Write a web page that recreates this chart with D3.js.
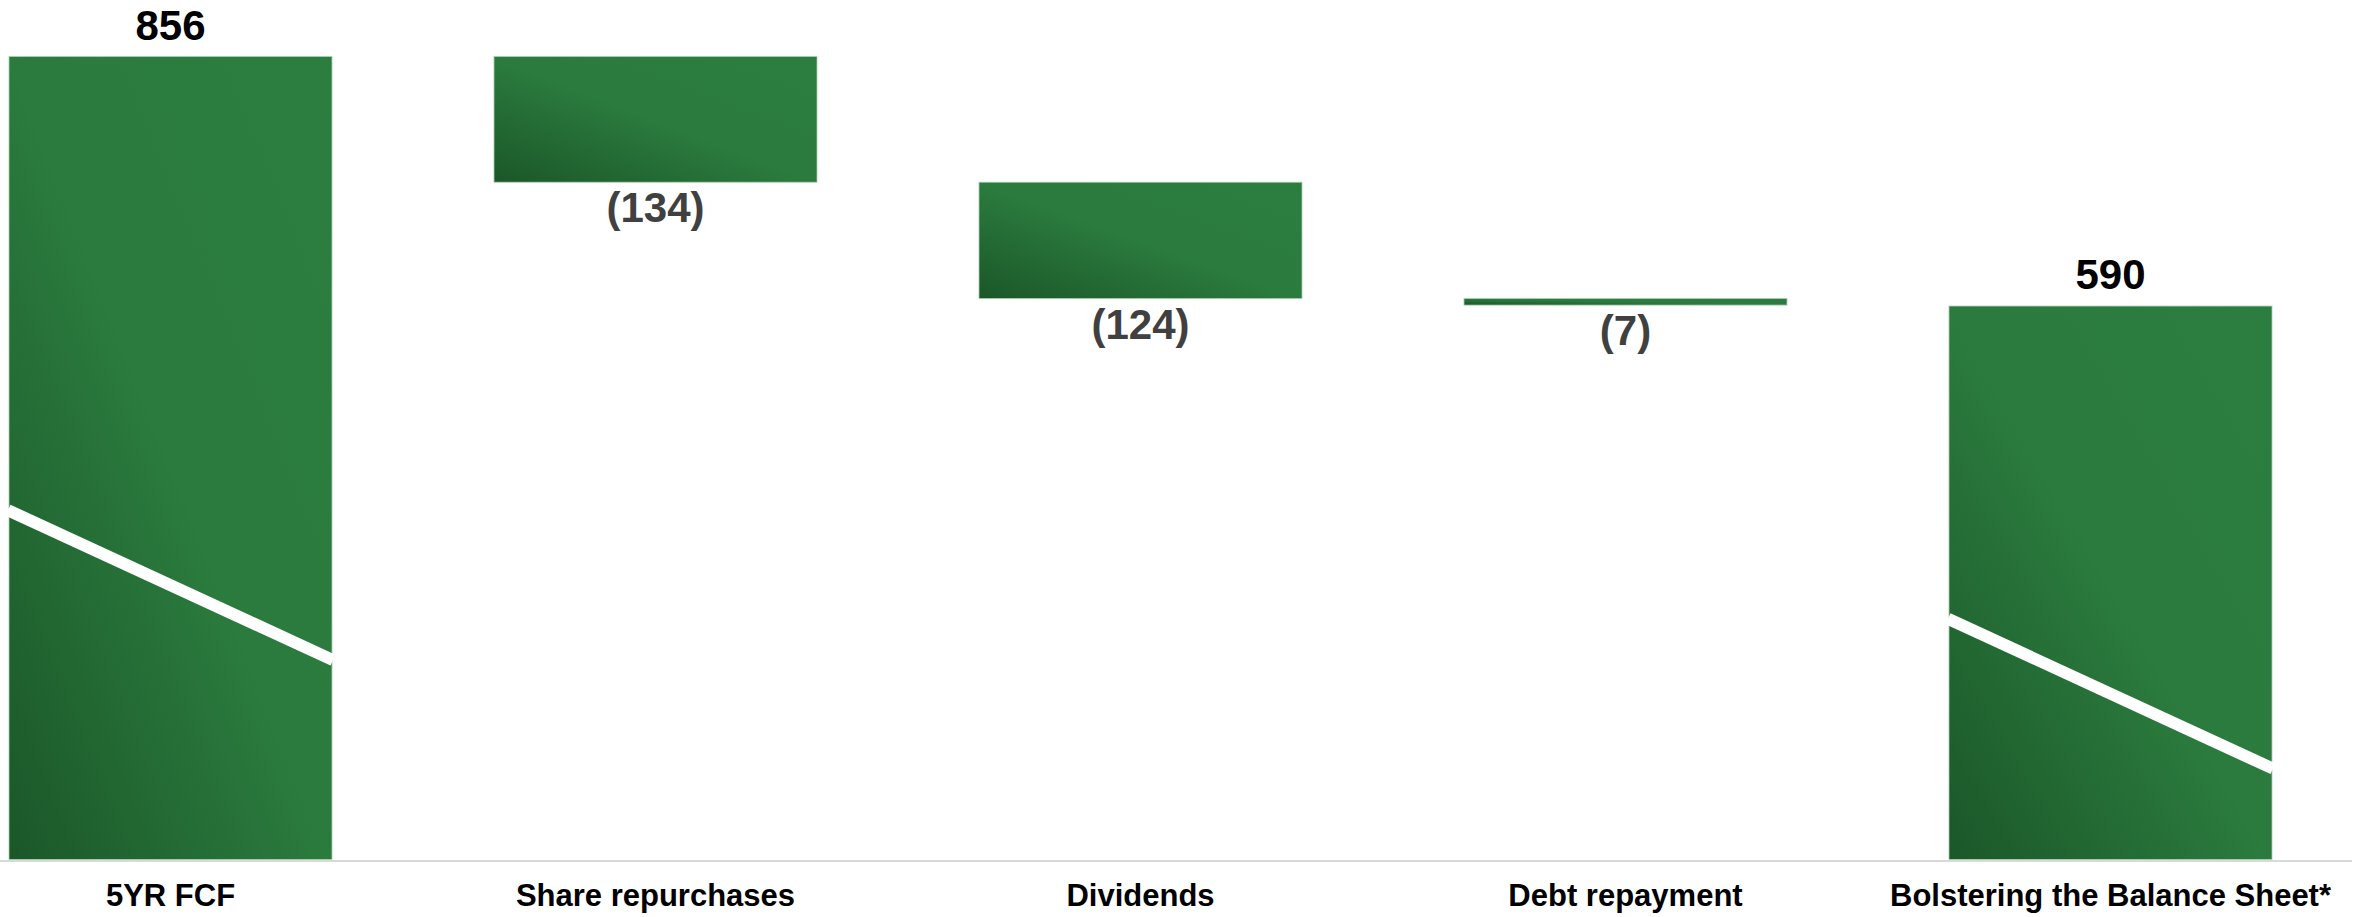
<!DOCTYPE html>
<html>
<head>
<meta charset="utf-8">
<script src="https://cdn.jsdelivr.net/npm/d3@7"></script>
<style>
  html, body { margin: 0; padding: 0; background: #fff; }
  svg text { font-family: "Liberation Sans", Arial, sans-serif; font-weight: bold; }
</style>
</head>
<body>
<div class="waterfall-container"></div>
<script>
// chart data
const categories = ["5YR FCF", "Share repurchases", "Dividends", "Debt repayment", "Bolstering the Balance Sheet*"];
const values = [856, -134, -124, -7, 590];
const valueLabels = ["856", "(134)", "(124)", "(7)", "590"];
const isTotal = [true, false, false, false, true];
const hasBreak = [true, false, false, false, true];

const width = 2367;
const height = 917;
const baseY = 859.5;

let svg = d3.select(".waterfall-container").append("svg")
    .attr("width", width)
    .attr("height", height);

// gradient used on every bar (dark bottom-left -> green top-right)
let grad = svg.append("defs").append("linearGradient")
    .attr("id", "barGrad")
    .attr("x1", 0).attr("y1", 1)
    .attr("x2", 1).attr("y2", 0);
grad.append("stop").attr("offset", "0%").attr("stop-color", "#1b5729");
grad.append("stop").attr("offset", "50%").attr("stop-color", "#2b7b3e");
grad.append("stop").attr("offset", "100%").attr("stop-color", "#2c7d40");

// running totals for the waterfall
let running = 0;
let steps = categories.map((cat, i) => {
    let start, end;
    if (isTotal[i]) {
        start = 0;
        end = values[i];
        running = values[i];
    } else {
        start = running;
        end = running + values[i];
        running = end;
    }
    return { cat: cat, value: values[i], label: valueLabels[i], start: start, end: end, brk: hasBreak[i] };
});

let xScale = d3.scaleBand()
    .domain(categories)
    .range([9, 2272])
    .paddingInner(0.334)
    .paddingOuter(0);

let yScale = d3.scaleLinear()
    .domain([0, 856])
    .range([baseY, 56.5]);

// baseline
svg.append("line")
    .attr("x1", 0).attr("x2", 2352)
    .attr("y1", baseY + 1.5).attr("y2", baseY + 1.5)
    .attr("stroke", "#d9d9d9")
    .attr("stroke-width", 2);

// bars
svg.selectAll("rect.bar")
    .data(steps)
    .enter()
    .append("rect")
    .attr("class", "bar")
    .attr("x", d => xScale(d.cat))
    .attr("y", d => yScale(Math.max(d.start, d.end)))
    .attr("width", xScale.bandwidth())
    .attr("height", d => Math.abs(yScale(d.start) - yScale(d.end)))
    .attr("fill", "url(#barGrad)")
    .attr("stroke", "#a9d0b1")
    .attr("stroke-width", 0.8);

// white axis-break slashes on the tall total bars
svg.selectAll("line.brk")
    .data(steps.filter(d => d.brk))
    .enter()
    .append("line")
    .attr("class", "brk")
    .attr("x1", d => xScale(d.cat) - 1)
    .attr("x2", d => xScale(d.cat) + xScale.bandwidth() + 1)
    .attr("y1", d => baseY - 0.435 * (baseY - yScale(d.end)))
    .attr("y2", d => baseY - 0.435 * (baseY - yScale(d.end)) + 149 * (xScale.bandwidth() + 2) / 323)
    .attr("stroke", "#ffffff")
    .attr("stroke-width", 12);

// value labels
svg.selectAll("text.val")
    .data(steps)
    .enter()
    .append("text")
    .attr("class", "val")
    .attr("x", d => xScale(d.cat) + xScale.bandwidth() / 2)
    .attr("y", d => d.value >= 0 ? yScale(d.end) - 17 : yScale(d.end) + 40)
    .attr("text-anchor", "middle")
    .attr("font-size", 42)
    .attr("fill", d => d.value >= 0 ? "#000000" : "#404040")
    .text(d => d.label);

// category axis
let xAxis = d3.axisBottom(xScale).tickSize(0).tickPadding(0);
let axisG = svg.append("g")
    .attr("class", "axis")
    .attr("transform", "translate(0," + baseY + ")")
    .call(xAxis);
axisG.select(".domain").remove();
axisG.selectAll("text")
    .attr("y", 46.5)
    .attr("dy", null)
    .attr("font-size", 31)
    .attr("font-family", "'Liberation Sans', Arial, sans-serif")
    .attr("font-weight", "bold")
    .attr("fill", "#000000");
</script>
</body>
</html>
